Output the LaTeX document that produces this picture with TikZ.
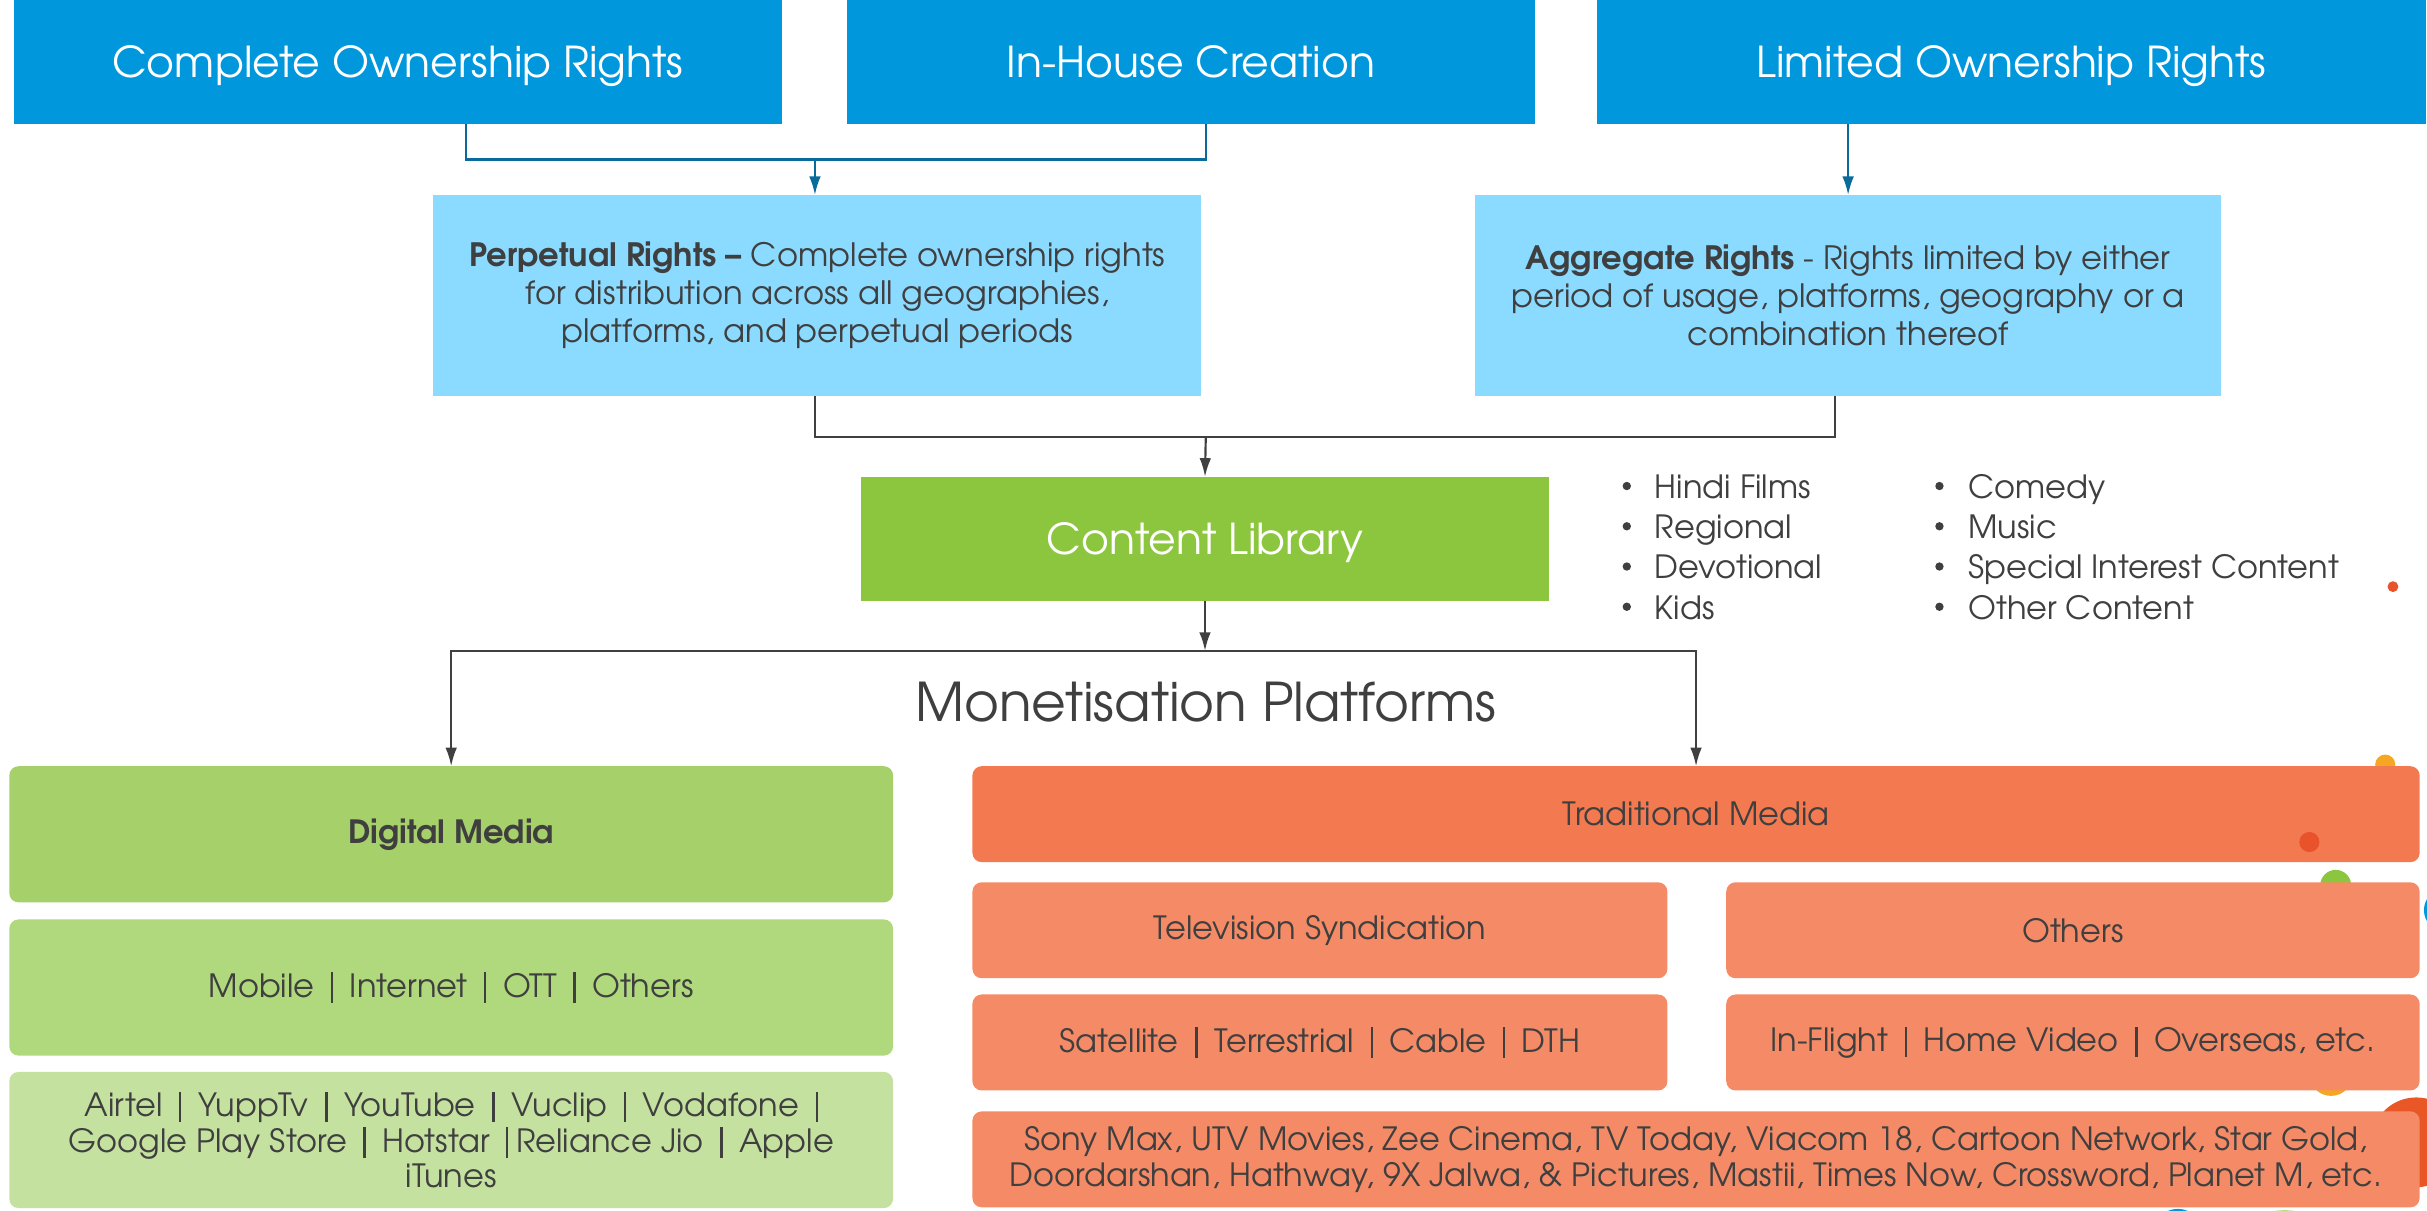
\documentclass[tikz,border=0pt]{standalone}
\usepackage{fontspec}
\setmainfont{texgyreadventor}[Extension=.otf, UprightFont=*-regular, BoldFont=*-bold, ItalicFont=*-italic, BoldItalicFont=*-bolditalic]
\usetikzlibrary{arrows.meta}
\definecolor{topblue}{HTML}{0097DC}
\definecolor{lightblue}{HTML}{8BDAFF}
\definecolor{clgreen}{HTML}{8CC63F}
\definecolor{dmgreen}{HTML}{A5D06A}
\definecolor{mogreen}{HTML}{B0D87C}
\definecolor{aigreen}{HTML}{C5E1A0}
\definecolor{trorange}{HTML}{F37A50}
\definecolor{suborange}{HTML}{F58B66}
\definecolor{txt}{HTML}{3F3F3F}
\definecolor{bline}{HTML}{0A6A9C}
\definecolor{gline}{HTML}{404040}
\definecolor{dotred}{HTML}{E8532B}
\definecolor{dotyellow}{HTML}{F5A623}
\definecolor{dotgreen}{HTML}{8CC63F}
\definecolor{dotblue}{HTML}{0097DC}
\newcommand\vb{\hspace{0.24em}\rule[-0.17em]{0.07em}{0.95em}\hspace{0.24em}}
\begin{document}
\begin{tikzpicture}[x=1pt,y=-1pt,
  box/.style={inner sep=0pt, outer sep=0pt, align=center, text=txt},
  headbox/.style={box, fill=topblue, text=white, font=\fontsize{27.5}{32}\selectfont, minimum height=80pt, text depth=0pt},
  rightsbox/.style={box, fill=lightblue, font=\fontsize{20.8}{24.5}\selectfont, minimum height=130pt},
  rbox/.style={box, rounded corners=6pt, font=\fontsize{20.7}{23}\selectfont},
  bconn/.style={draw=bline, line width=1.4pt},
  gconn/.style={draw=gline, line width=1.4pt},
  tip/.style={-{Latex[length=12pt,width=7.5pt]}},
  bul/.style={inner sep=0pt, anchor=base west, text=txt, font=\fontsize{20.7}{26}\selectfont}
]
\useasboundingbox (0,0) rectangle (1568,782);

% decorative dots behind
\fill[dotgreen] (1509,572) circle (10);
\fill[dotyellow] (1541,494) circle (6.5);
\fill[dotyellow] (1506,694) circle (14);
\fill[dotred!90!orange] (1561,738) circle (29);
\fill[dotblue] (1580,588) circle (14);
\fill[dotblue] (1407,797) circle (16);
\fill[dotgreen] (1476,840) circle (58);

% top row
\node[headbox, minimum width=496pt] (A) at (257,40) {Complete Ownership Rights};
\node[headbox, minimum width=445pt] (B) at (769.5,40) {In-House Creation};
\node[headbox, minimum width=536pt] (C) at (1299.5,40) {Limited Ownership Rights};

% rights boxes
\node[rightsbox, minimum width=496pt] (P) at (528,191) {\textbf{Perpetual Rights –} Complete ownership rights\\for distribution across all geographies,\\platforms, and perpetual periods};
\node[rightsbox, minimum width=482pt] (G) at (1194,191) {\textbf{Aggregate Rights} - Rights limited by either\\period of usage, platforms, geography or a\\combination thereof};

% content library
\node[box, fill=clgreen, text=white, font=\fontsize{27.5}{32}\selectfont, text depth=0pt, minimum width=445pt, minimum height=80pt] (L) at (778.5,348) {Content Library};

% bullet lists
\foreach \t [count=\i] in {Hindi Films, Regional, Devotional, Kids}{
  \fill[txt] (1051,{314+26*(\i-1)}) circle (2.7);
  \node[bul] (l\i) at (1069,{322+26*(\i-1)}) {\t};
}
\foreach \t [count=\i] in {Comedy, Music, Special Interest Content, Other Content}{
  \fill[txt] (1253,{314+26*(\i-1)}) circle (2.7);
  \node[bul] (r\i) at (1271.5,{322+26*(\i-1)}) {\t};
}

% monetisation title
\node[inner sep=0pt, anchor=base, text=txt, font=\fontsize{34.5}{40}\selectfont] (M) at (779,466) {Monetisation Platforms};

% digital media
\node[rbox, fill=dmgreen, minimum width=571pt, minimum height=88pt] (D) at (291.5,539) {\textbf{Digital Media}};
\node[rbox, fill=mogreen, minimum width=571pt, minimum height=88pt] (D2) at (291.5,638) {Mobile \vb{} Internet \vb{} OTT \vb{} Others};
\node[rbox, fill=aigreen, minimum width=571pt, minimum height=88pt] (D3) at (291.5,736.5) {Airtel \vb{} YuppTv \vb{} YouTube \vb{} Vuclip \vb{} Vodafone \vb\\Google Play Store \vb{} Hotstar \vb{}Reliance Jio \vb{} Apple\\iTunes};

% traditional media
\node[rbox, fill=trorange, minimum width=935pt, minimum height=62pt] (T) at (1095.75,526) {Traditional Media};
\node[rbox, fill=suborange, minimum width=449pt, minimum height=62pt] (T1) at (852.75,601) {Television Syndication};
\node[rbox, fill=suborange, minimum width=448pt, minimum height=62pt] (T2) at (1339.25,601) {Others};
\node[rbox, fill=suborange, minimum width=449pt, minimum height=62pt] (T3) at (852.75,673.5) {Satellite \vb{} Terrestrial \vb{} Cable \vb{} DTH};
\node[rbox, fill=suborange, minimum width=448pt, minimum height=62pt] (T4) at (1339.25,673.5) {In-Flight \vb{} Home Video \vb{} Overseas, etc.};
\node[rbox, fill=suborange, minimum width=935pt, minimum height=62pt] (T5) at (1095.75,749) {Sony Max, UTV Movies, Zee Cinema, TV Today, Viacom 18, Cartoon Network, Star Gold,\\Doordarshan, Hathway, 9X Jalwa, \& Pictures, Mastii, Times Now, Crossword, Planet M, etc.};

% decorative dots on top
\fill[dotred] (1492,544) circle (6.5);
\fill[dotred] (1546,379) circle (3.5);

% connectors
\coordinate (j1) at (526.5,103);
\coordinate (j2) at (779,282.5);
\coordinate (j3) at (778.5,420.5);
\draw[bconn] ([xshift=44pt]A.south) |- (j1) -| ([xshift=9.5pt]B.south);
\draw[bconn, tip] (j1) -- (j1 |- P.north);
\draw[bconn, tip] ([xshift=-105.5pt]C.south) -- (G.north);
\draw[gconn] ([xshift=-1.5pt]P.south) |- (j2) -| ([xshift=-8.5pt]G.south);
\draw[gconn, tip] (j2) -- (L.north);
\draw[gconn, tip] (L.south) -- (j3);
\draw[gconn, tip] (j3) -| (D.north);
\draw[gconn, tip] (j3) -| (T.north);
\end{tikzpicture}
\end{document}
